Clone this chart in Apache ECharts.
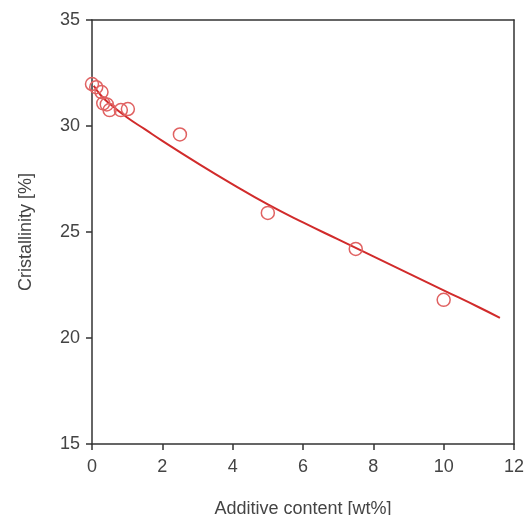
<!DOCTYPE html>
<html>
<head>
<meta charset="utf-8">
<script src="https://cdn.jsdelivr.net/npm/echarts@6/dist/echarts.min.js"></script>
<style>html,body{margin:0;padding:0;background:#fff;}#c{width:526px;height:515px;}</style>
</head>
<body>
<div id="c"></div>
<script>
// Measured data points
var pointX = [0, 0.12, 0.27, 0.32, 0.42, 0.5, 0.82, 1.02, 2.5, 5, 7.5, 10];
var pointY = [31.98, 31.83, 31.6, 31.07, 31.02, 30.75, 30.75, 30.8, 29.6, 25.9, 24.2, 21.8];
// Fitted curve
var curveX = [0.05, 0.25, 0.5, 1, 1.5, 2, 3, 4, 5, 6, 7, 8, 9, 10, 11, 11.6];
var curveY = [31.9, 31.45, 31.05, 30.4, 29.85, 29.3, 28.25, 27.25, 26.3, 25.45, 24.65, 23.85, 23.05, 22.25, 21.45, 20.95];
// Axes
var xMin = 0, xMax = 12, xStep = 2;
var yMin = 15, yMax = 35, yStep = 5;
var xName = 'Additive content [wt%]';
var yName = 'Cristallinity [%]';

var font = 'Liberation Sans, Arial, sans-serif';
var axisCol = '#333333';
var chart = echarts.init(document.getElementById('c'));
var scatterData = pointX.map(function (x, i) { return [x, pointY[i]]; });
var curveData = curveX.map(function (x, i) { return [x, curveY[i]]; });

chart.setOption({
  animation: false,
  backgroundColor: '#fff',
  grid: { left: 92, right: 12, top: 20, bottom: 71, outerBoundsMode: 'none', containLabel: false },
  xAxis: [{
    type: 'value', min: xMin, max: xMax, interval: xStep,
    name: xName, nameLocation: 'middle', nameGap: 56,
    nameTextStyle: { fontFamily: font, fontSize: 18, color: '#444' },
    axisLine: { onZero: false, lineStyle: { color: axisCol, width: 1.5 } },
    axisTick: { show: true, inside: false, length: 6, lineStyle: { color: axisCol, width: 1.5 } },
    axisLabel: { fontFamily: font, fontSize: 18, color: '#444', margin: 14 },
    splitLine: { show: false }
  }, {
    type: 'value', min: xMin, max: xMax, position: 'top',
    axisLine: { show: true, onZero: false, lineStyle: { color: axisCol, width: 1.5 } },
    axisTick: { show: false }, axisLabel: { show: false }, splitLine: { show: false }
  }],
  yAxis: [{
    type: 'value', min: yMin, max: yMax, interval: yStep,
    name: yName, nameLocation: 'middle', nameGap: 57,
    nameTextStyle: { fontFamily: font, fontSize: 18, color: '#444' },
    axisLine: { show: true, onZero: false, lineStyle: { color: axisCol, width: 1.5 } },
    axisTick: { show: true, inside: false, length: 6, lineStyle: { color: axisCol, width: 1.5 } },
    axisLabel: { fontFamily: font, fontSize: 18, color: '#444', margin: 12 },
    splitLine: { show: false }
  }, {
    type: 'value', min: yMin, max: yMax, position: 'right',
    axisLine: { show: true, onZero: false, lineStyle: { color: axisCol, width: 1.5 } },
    axisTick: { show: false }, axisLabel: { show: false }, splitLine: { show: false }
  }],
  series: [{
    type: 'line', data: curveData, smooth: true, showSymbol: false,
    lineStyle: { color: '#d12b2b', width: 2 }, z: 3
  }, {
    type: 'scatter', data: scatterData, symbol: 'circle', symbolSize: 13,
    itemStyle: { color: 'rgba(0,0,0,0)', borderColor: '#e06262', borderWidth: 1.5, opacity: 1 },
    z: 4
  }]
});
</script>
</body>
</html>
